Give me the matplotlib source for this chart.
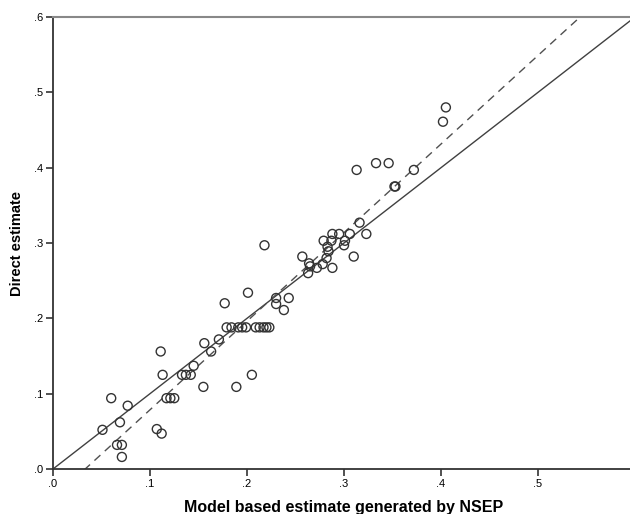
import matplotlib
matplotlib.use("Agg")
import matplotlib.pyplot as plt
import numpy as np

# model based estimate (x) vs direct estimate (y)
model_est = [0.051, 0.060, 0.069, 0.077, 0.066, 0.071, 0.071, 0.107, 0.112, 0.111,
             0.113, 0.117, 0.121, 0.125, 0.133, 0.137, 0.142, 0.145, 0.155, 0.156,
             0.163, 0.171, 0.177, 0.179, 0.184, 0.191, 0.195, 0.199, 0.189, 0.201,
             0.205, 0.209, 0.213, 0.217, 0.220, 0.223, 0.218, 0.230, 0.230, 0.238,
             0.243, 0.257, 0.264, 0.265, 0.263, 0.272, 0.278, 0.282, 0.284, 0.283,
             0.279, 0.287, 0.288, 0.295, 0.306, 0.301, 0.300, 0.310, 0.288, 0.323,
             0.316, 0.313, 0.333, 0.346, 0.352, 0.353, 0.372, 0.402, 0.405]
direct_est = [0.052, 0.094, 0.062, 0.084, 0.032, 0.032, 0.016, 0.053, 0.047, 0.156,
              0.125, 0.094, 0.094, 0.094, 0.125, 0.125, 0.125, 0.137, 0.109, 0.167,
              0.156, 0.172, 0.220, 0.188, 0.188, 0.188, 0.188, 0.188, 0.109, 0.234,
              0.125, 0.188, 0.188, 0.188, 0.188, 0.188, 0.297, 0.227, 0.219, 0.211,
              0.227, 0.282, 0.273, 0.269, 0.260, 0.267, 0.272, 0.280, 0.289, 0.295,
              0.303, 0.303, 0.312, 0.312, 0.312, 0.303, 0.297, 0.282, 0.267, 0.312,
              0.327, 0.397, 0.406, 0.406, 0.375, 0.375, 0.397, 0.461, 0.480]

# reference line (y = x) and fitted line
ref_slope, ref_icpt = 1.0, 0.0
fit_slope, fit_icpt = 1.176, -0.039

ticks = [0.0, 0.1, 0.2, 0.3, 0.4, 0.5, 0.6]
tick_labels = [".0", ".1", ".2", ".3", ".4", ".5", ".6"]

plt.rcParams['font.family'] = ['Liberation Sans', 'DejaVu Sans']

fig = plt.figure(figsize=(6.3, 5.14), dpi=100)
ax = fig.add_axes([53 / 630, 1 - 469 / 514, 1 - 53 / 630, (469 - 17) / 514])

xmax = 0.5948
ax.set_xlim(0, xmax)
ax.set_ylim(0, 0.6)

xs = np.array([0, 0.6])
ax.plot(xs, ref_icpt + ref_slope * xs, color='#404040', lw=1.0, zorder=2)
ax.plot(xs, fit_icpt + fit_slope * xs, color='#505050', lw=1.0,
        dashes=(5.8, 4.3), zorder=2)

ax.scatter(model_est, direct_est, s=42, facecolors='none', edgecolors='#333333',
           linewidths=1.0, zorder=3, clip_on=False)

ax.set_xticks(ticks[:-1])
ax.set_xticklabels(tick_labels[:-1])
ax.set_yticks(ticks)
ax.set_yticklabels(tick_labels)
ax.tick_params(direction='out', length=5, width=1.2, color='#333333',
               labelsize=8, pad=2)

for side in ['left', 'bottom']:
    ax.spines[side].set_color('#333333')
    ax.spines[side].set_linewidth(1.3)
ax.spines['right'].set_visible(False)
ax.spines['top'].set_color('#888888')
ax.spines['top'].set_linewidth(1.5)

ax.set_xlabel("Model based estimate generated by NSEP", fontsize=11.5,
              fontweight='bold')
ax.xaxis.set_label_coords(0.504, -0.068)
ax.set_ylabel("Direct estimate", fontsize=10.5, fontweight='bold')
ax.yaxis.set_label_coords(-0.050, 0.5)

fig.savefig("out.png", dpi=100)
